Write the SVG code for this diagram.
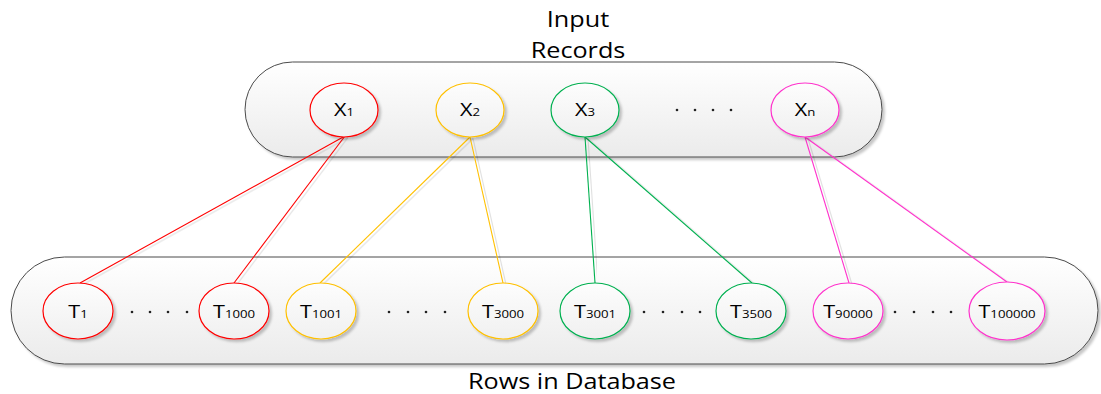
<svg xmlns="http://www.w3.org/2000/svg" width="1101" height="394" viewBox="0 0 1101 394">
<defs>
<linearGradient id="cg" x1="0" y1="0" x2="0" y2="1">
<stop offset="0" stop-color="#FFFFFF"/>
<stop offset="1" stop-color="#EBEBEB"/>
</linearGradient>
<linearGradient id="ng" x1="0" y1="0" x2="0" y2="1">
<stop offset="0" stop-color="#FDFDFD"/>
<stop offset="1" stop-color="#F0F0F0"/>
</linearGradient>
<filter id="sh" x="-10%" y="-10%" width="130%" height="130%">
<feDropShadow dx="2.5" dy="2.5" stdDeviation="1" flood-color="#000" flood-opacity="0.22"/>
</filter>
<filter id="lsh" x="-10%" y="-10%" width="130%" height="130%">
<feDropShadow dx="3" dy="1.5" stdDeviation="0.5" flood-color="#000" flood-opacity="0.12"/>
</filter>
</defs>
<style>
.cont{fill:url(#cg);stroke:#4A4A4A;stroke-width:1;filter:url(#sh)}
.node{fill:url(#ng);stroke-width:1.2;filter:url(#sh)}
.lab{font-family:"Open Sans","Liberation Sans",sans-serif;font-size:18px;fill:#000;text-anchor:middle}
.sub{font-size:11px}
.ttl{font-family:"Open Sans","Liberation Sans",sans-serif;font-size:21px;fill:#000;text-anchor:middle}
.con{fill:none;stroke-width:1.1;filter:url(#lsh)}
.red{stroke:#FF0000}.yel{stroke:#FFC000}.grn{stroke:#00B050}.pnk{stroke:#FF33CC}
.dot{fill:#222}
</style>

<g id="title">
<text class="ttl" transform="translate(578,27) scale(1.2,1)">Input</text>
<text class="ttl" transform="translate(578,58) scale(1.2,1)">Records</text>
<text class="ttl" transform="translate(572,389) scale(1.2,1)">Rows in Database</text>
</g>

<g id="input-records">
<rect class="cont" x="245" y="62" width="637" height="95" rx="47.5" ry="47.5"/>
</g>
<g id="rows-db">
<rect class="cont" x="11" y="257" width="1087" height="107" rx="53.5" ry="53.5"/>
</g>

<g id="connectors">
<line class="con red" x1="345" y1="136" x2="80" y2="283"/>
<line class="con red" x1="345" y1="136" x2="234" y2="283"/>
<line class="con yel" x1="470" y1="137" x2="320" y2="283"/>
<line class="con yel" x1="470" y1="137" x2="503" y2="283"/>
<line class="con grn" x1="585" y1="137" x2="595" y2="283"/>
<line class="con grn" x1="585" y1="137" x2="752" y2="283"/>
<line class="con pnk" x1="805" y1="137" x2="849" y2="283"/>
<line class="con pnk" x1="805" y1="137" x2="1007" y2="282"/>
</g>

<g id="x1"><ellipse class="node red" cx="344" cy="110" rx="34" ry="27"/><text class="lab" transform="translate(344,116) scale(1.2,1)">X<tspan class="sub">1</tspan></text></g>
<g id="x2"><ellipse class="node yel" cx="470" cy="110" rx="34" ry="27"/><text class="lab" transform="translate(470,116) scale(1.2,1)">X<tspan class="sub">2</tspan></text></g>
<g id="x3"><ellipse class="node grn" cx="585" cy="110" rx="34" ry="27"/><text class="lab" transform="translate(585,116) scale(1.2,1)">X<tspan class="sub">3</tspan></text></g>
<g id="xdots"><circle class="dot" cx="677" cy="110" r="1.3"/><circle class="dot" cx="695" cy="110" r="1.3"/><circle class="dot" cx="713" cy="110" r="1.3"/><circle class="dot" cx="731" cy="110" r="1.3"/></g>
<g id="xn"><ellipse class="node pnk" cx="805" cy="110" rx="34" ry="27"/><text class="lab" transform="translate(805,116) scale(1.2,1)">X<tspan class="sub">n</tspan></text></g>

<g id="t1"><ellipse class="node red" cx="78" cy="311" rx="35" ry="28"/><text class="lab" transform="translate(78,318) scale(1.2,1)">T<tspan class="sub">1</tspan></text></g>
<g id="tdots1"><circle class="dot" cx="132" cy="312" r="1.3"/><circle class="dot" cx="150" cy="312" r="1.3"/><circle class="dot" cx="168" cy="312" r="1.3"/><circle class="dot" cx="187" cy="312" r="1.3"/></g>
<g id="t1000"><ellipse class="node red" cx="234" cy="311" rx="35" ry="28"/><text class="lab" transform="translate(234,318) scale(1.2,1)">T<tspan class="sub">1000</tspan></text></g>
<g id="t1001"><ellipse class="node yel" cx="321" cy="311" rx="35" ry="28"/><text class="lab" transform="translate(321,318) scale(1.2,1)">T<tspan class="sub">1001</tspan></text></g>
<g id="tdots2"><circle class="dot" cx="389" cy="312" r="1.3"/><circle class="dot" cx="408" cy="312" r="1.3"/><circle class="dot" cx="426" cy="312" r="1.3"/><circle class="dot" cx="445" cy="312" r="1.3"/></g>
<g id="t3000"><ellipse class="node yel" cx="503" cy="311" rx="35" ry="28"/><text class="lab" transform="translate(503,318) scale(1.2,1)">T<tspan class="sub">3000</tspan></text></g>
<g id="t3001"><ellipse class="node grn" cx="595" cy="311" rx="35" ry="28"/><text class="lab" transform="translate(595,318) scale(1.2,1)">T<tspan class="sub">3001</tspan></text></g>
<g id="tdots3"><circle class="dot" cx="644" cy="312" r="1.3"/><circle class="dot" cx="663" cy="312" r="1.3"/><circle class="dot" cx="682" cy="312" r="1.3"/><circle class="dot" cx="700" cy="312" r="1.3"/></g>
<g id="t3500"><ellipse class="node grn" cx="751" cy="311" rx="35" ry="28"/><text class="lab" transform="translate(751,318) scale(1.2,1)">T<tspan class="sub">3500</tspan></text></g>
<g id="t90000"><ellipse class="node pnk" cx="848" cy="311" rx="35" ry="28"/><text class="lab" transform="translate(848,318) scale(1.2,1)">T<tspan class="sub">90000</tspan></text></g>
<g id="tdots4"><circle class="dot" cx="895" cy="312" r="1.3"/><circle class="dot" cx="914" cy="312" r="1.3"/><circle class="dot" cx="933" cy="312" r="1.3"/><circle class="dot" cx="951" cy="312" r="1.3"/></g>
<g id="t100000"><ellipse class="node pnk" cx="1007" cy="311" rx="38" ry="29"/><text class="lab" transform="translate(1007,318) scale(1.2,1)">T<tspan class="sub">100000</tspan></text></g>
</svg>
